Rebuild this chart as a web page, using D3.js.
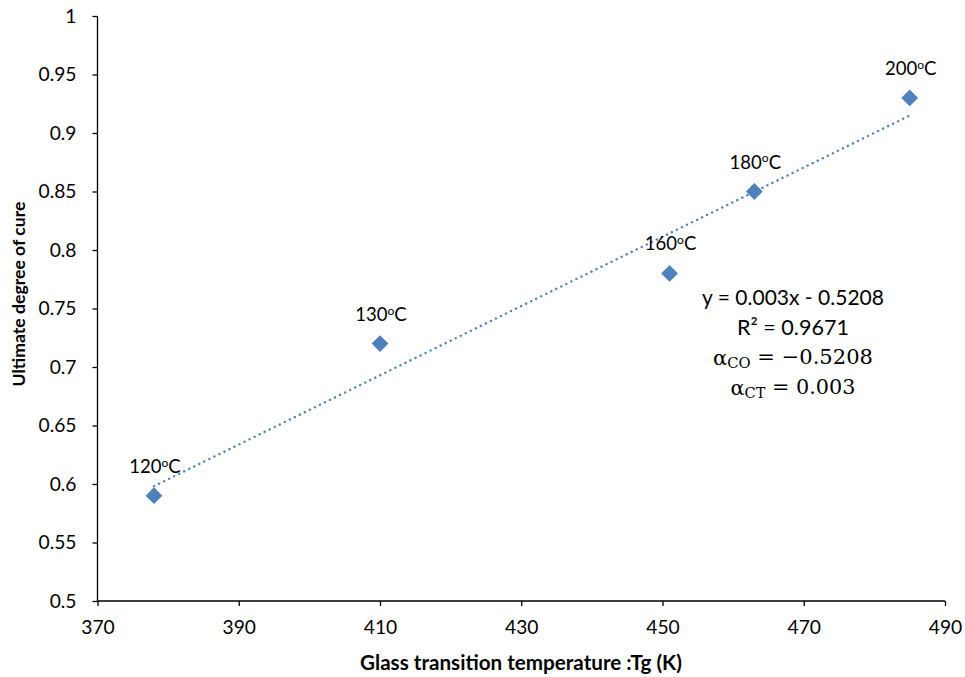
<!DOCTYPE html>
<html><head><meta charset="utf-8">
<script src="https://cdn.jsdelivr.net/npm/d3@7"></script>
<style>body{margin:0;background:#fff;} text{font-family:Lato,"Open Sans",sans-serif;}</style>
</head><body>
<svg id="c" width="965" height="677"></svg>
<script>
const tempK = [378, 410, 451, 463, 485];
const cure = [0.59, 0.72, 0.78, 0.85, 0.93];
const labels = ["120", "130", "160", "180", "200"];
const xTicks = [370, 390, 410, 430, 450, 470, 490];
const yTicks = [0.5, 0.55, 0.6, 0.65, 0.7, 0.75, 0.8, 0.85, 0.9, 0.95, 1];

const svg = d3.select("#c");
const x = d3.scaleLinear().domain([370, 490]).range([97.5, 945]);
const y = d3.scaleLinear().domain([0.5, 1]).range([601, 16]);
const color = "#4F81BD";

// scale a text element's font-size so its rendered width equals target
function fitWidth(sel, target) {
  const node = sel.node();
  const fs = parseFloat(sel.attr("font-size"));
  const w = node.getComputedTextLength();
  if (w > 0) sel.attr("font-size", fs * target / w);
  return sel;
}

const xa = svg.append("g").attr("transform", `translate(0,${y(0.5)})`)
  .call(d3.axisBottom(x).tickValues(xTicks).tickSize(5).tickPadding(14).tickFormat(d3.format("d")));
const ya = svg.append("g").attr("transform", `translate(${x(370)},0)`)
  .call(d3.axisLeft(y).tickValues(yTicks).tickSize(5).tickPadding(16).tickFormat(d => String(d)));
// determine axis label font size from "0.85" width
const probe = svg.append("text").attr("font-size", 18).text("0.85");
fitWidth(probe, 38);
const tickFs = parseFloat(probe.attr("font-size"));
probe.remove();
[xa, ya].forEach(a => {
  a.selectAll("path,line").attr("stroke", "#000").attr("stroke-width", 1.3);
  a.select(".domain").attr("d", a === xa ? `M${x(370)},0H${x(490)}` : `M0,${y(0.5)}V${y(1)}`);
  a.selectAll("text").attr("font-size", tickFs).attr("fill", "#000").style("font-family", "Lato, sans-serif");
});

// trendline via least squares
const mx = d3.mean(tempK), my = d3.mean(cure);
let sxy = 0, sxx = 0;
tempK.forEach((t, i) => { sxy += (t - mx) * (cure[i] - my); sxx += (t - mx) ** 2; });
const slope = sxy / sxx, icpt = my - slope * mx;
const x0 = d3.min(tempK), x1 = d3.max(tempK);
svg.append("line").attr("x1", x(x0)).attr("y1", y(slope * x0 + icpt))
  .attr("x2", x(x1)).attr("y2", y(slope * x1 + icpt))
  .attr("stroke", color).attr("stroke-width", 2.4).attr("stroke-dasharray", "0.1 5.5").attr("stroke-linecap", "round");

// markers
svg.selectAll("path.pt").data(tempK).join("path").attr("class", "pt")
  .attr("d", d3.symbol(d3.symbolDiamond2, 180)())
  .attr("transform", (d, i) => `translate(${x(d)},${y(cure[i])})`)
  .attr("fill", color);

// labels
const lbl = svg.selectAll("text.lbl").data(tempK).join("text").attr("class", "lbl")
  .attr("x", d => x(d) + 1).attr("y", (d, i) => y(cure[i]) - 23)
  .attr("text-anchor", "middle").attr("font-size", 18).attr("fill", "#000");
lbl.append("tspan").text((d, i) => labels[i]);
lbl.append("tspan").attr("font-size", "0.65em").attr("dy", "-0.5em").text("o");
lbl.append("tspan").attr("dy", "0.325em").text("C");
lbl.each(function () { fitWidth(d3.select(this), 51.5); });

// equation box
const ex = 793;
const serif = "'DejaVu Serif','Liberation Serif',serif";
const e1 = svg.append("text").attr("x", ex).attr("y", 305).attr("text-anchor", "middle").attr("font-size", 20).text("y = 0.003x - 0.5208");
fitWidth(e1, 182);
const e2 = svg.append("text").attr("x", ex).attr("y", 335).attr("text-anchor", "middle").attr("font-size", 20).text("R² = 0.9671");
fitWidth(e2, 112);
const a1 = svg.append("text").attr("x", ex).attr("y", 365).attr("text-anchor", "middle").attr("font-size", 20).style("font-family", serif);
a1.append("tspan").text("α");
a1.append("tspan").attr("font-size", "0.7em").attr("dy", "0.2em").text("CO");
a1.append("tspan").attr("dy", "-0.2em").text(" = −0.5208");
fitWidth(a1, 160);
const a2 = svg.append("text").attr("x", ex).attr("y", 395).attr("text-anchor", "middle").attr("font-size", 20).style("font-family", serif);
a2.append("tspan").text("α");
a2.append("tspan").attr("font-size", "0.7em").attr("dy", "0.2em").text("CT");
a2.append("tspan").attr("dy", "-0.2em").text(" = 0.003");
fitWidth(a2, 125);

// axis titles
const xt = svg.append("text").attr("x", 521).attr("y", 670).attr("text-anchor", "middle")
  .attr("font-size", 20).attr("font-weight", "bold").text("Glass transition temperature :Tg (K)");
fitWidth(xt, 322);
const yt = svg.append("text").attr("transform", `translate(25,294) rotate(-90)`).attr("text-anchor", "middle")
  .attr("font-size", 20).attr("font-weight", "bold").text("Ultimate degree of cure");
fitWidth(yt, 185);
</script>
</body></html>
